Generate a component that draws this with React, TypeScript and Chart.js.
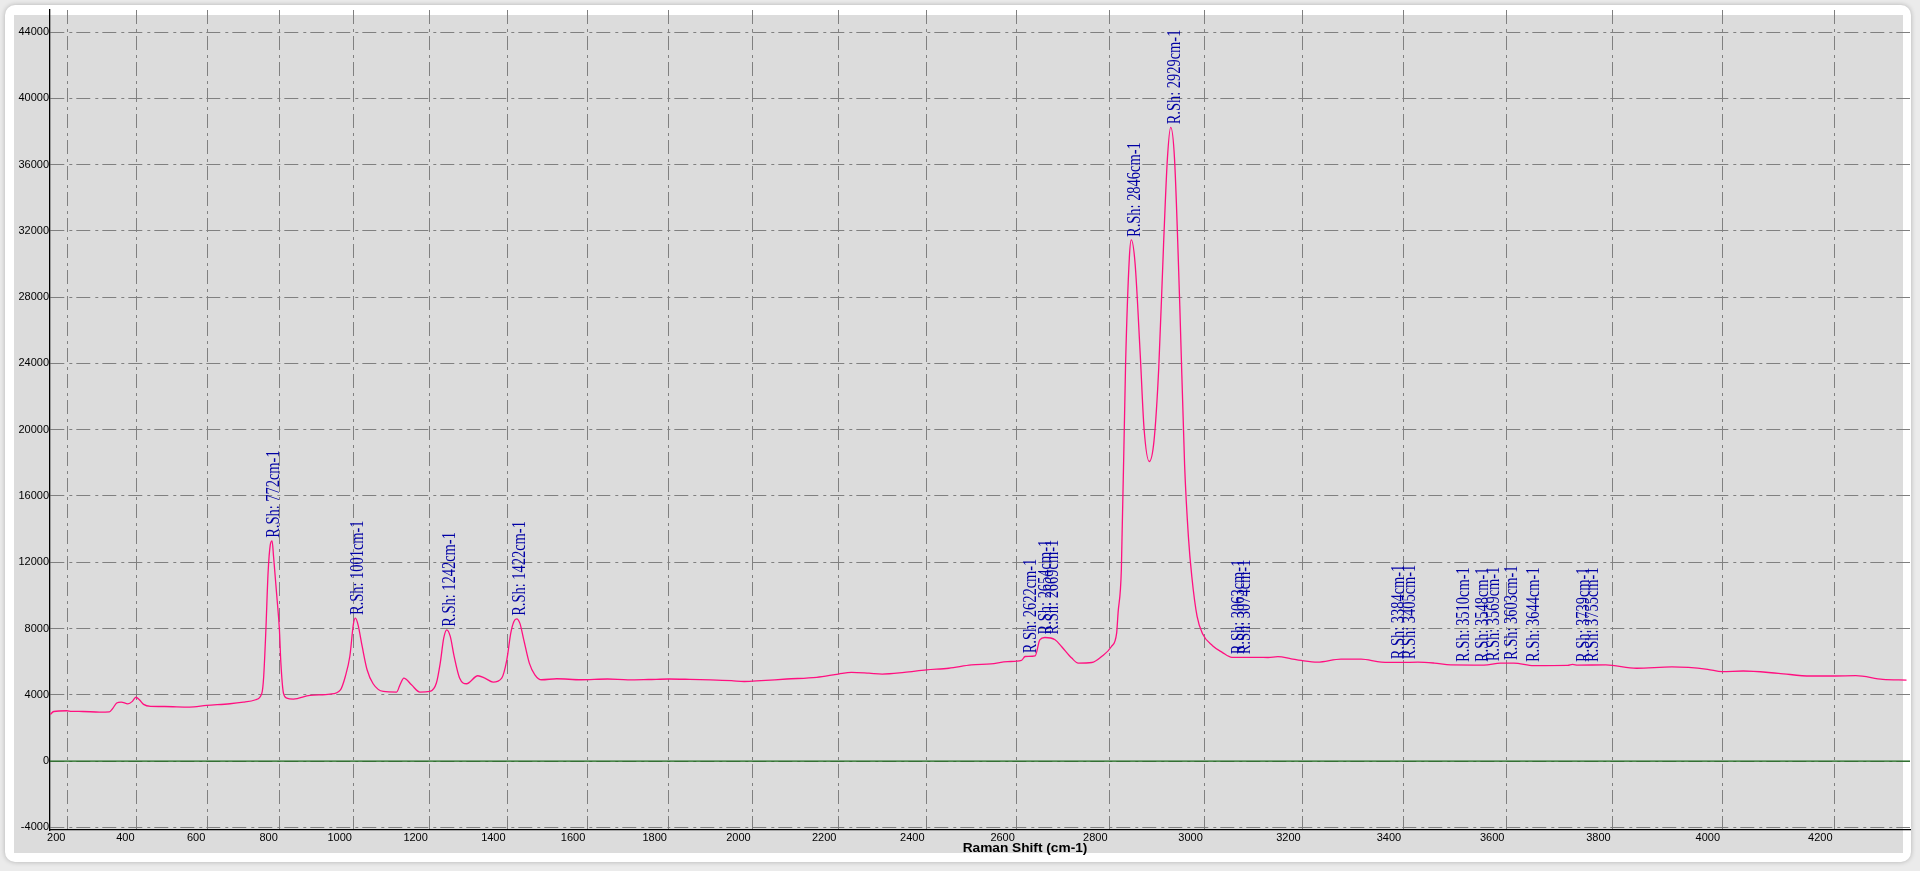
import React, { useEffect, useRef } from 'react';
import { Chart, registerables, LinearScale } from 'chart.js';

// ---- data ----
const RAMAN_SHIFT = [
  150, 160, 198, 212, 245, 293, 322, 331, 343, 356, 375, 388, 398, 408, 420, 440, 480, 550, 598, 663,
  700, 734, 751, 756, 762, 768, 774, 779, 783, 792, 799, 803, 810, 819, 837, 882, 936, 964, 977, 989,
  999, 1004, 1011, 1022, 1035, 1051, 1078, 1113, 1122, 1132, 1152, 1174, 1200, 1217, 1227, 1236, 1244, 1253, 1263, 1277,
  1295, 1324, 1342, 1363, 1385, 1398, 1408, 1416, 1423, 1431, 1441, 1455, 1469, 1486, 1524, 1584, 1650, 1700, 1750, 1800,
  1850, 1900, 1950, 1980, 2020, 2080, 2150, 2200, 2230, 2270, 2300, 2350, 2400, 2450, 2500, 2543, 2580, 2610, 2618, 2640,
  2650, 2661, 2683, 2697, 2719, 2733, 2762, 2783, 2804, 2815, 2818, 2825, 2834, 2842, 2846, 2854, 2865, 2873, 2884, 2894,
  2904, 2914, 2922, 2929, 2937, 2948, 2958, 2966, 2973, 2984, 2995, 3016, 3036, 3056, 3110, 3130, 3150, 3177, 3197, 3230,
  3277, 3317, 3357, 3397, 3429, 3461, 3493, 3557, 3589, 3614, 3652, 3716, 3725, 3735, 3787, 3844, 3909, 3974, 4000, 4038,
  4101, 4158, 4200, 4237, 4284, 4325,
];
const INTENSITY = [
  2810, 2990, 3035, 3000, 2990, 2955, 2970, 3155, 3500, 3560, 3450, 3600, 3850, 3700, 3420, 3300, 3290, 3257, 3355, 3457,
  3550, 3698, 4100, 5104, 7921, 11360, 13050, 13290, 12344, 9930, 7921, 5912, 4100, 3800, 3740, 3960, 4040, 4300, 5104, 6310,
  8325, 8627, 8223, 6914, 5508, 4664, 4200, 4163, 4603, 5007, 4603, 4163, 4200, 4706, 5912, 7420, 7921, 7520, 6310, 5007,
  4664, 5146, 5007, 4766, 5007, 6111, 7722, 8424, 8585, 8325, 7318, 5912, 5206, 4905, 4965, 4905, 4950, 4900, 4920, 4950,
  4930, 4900, 4850, 4800, 4850, 4950, 5050, 5250, 5350, 5300, 5250, 5350, 5500, 5600, 5800, 5870, 6000, 6070, 6310, 6353,
  7318, 7457, 7318, 6914, 6214, 5912, 5948, 6310, 6914, 7722, 8929, 11540, 24000, 30400, 31450, 30060, 24510, 20070, 18080, 19340,
  23770, 31150, 36330, 38250, 36330, 27460, 17870, 13500, 11140, 8724, 7700, 6960, 6560, 6260, 6260, 6250, 6300, 6170, 6070, 5970,
  6150, 6150, 5970, 5950, 5970, 5912, 5800, 5790, 5912, 5912, 5760, 5770, 5830, 5790, 5800, 5600, 5677, 5535, 5394, 5434,
  5293, 5131, 5131, 5150, 4929, 4889,
];
const X_TICKS = [200, 400, 600, 800, 1000, 1200, 1400, 1600, 1800, 2000, 2200, 2400, 2600, 2800, 3000, 3200, 3400, 3600, 3800, 4000, 4200];
const Y_TICKS = [-4000, 0, 4000, 8000, 12000, 16000, 20000, 24000, 28000, 32000, 36000, 40000, 44000];
const PEAK_LABELS = [772, 1001, 1242, 1422, 2622, 2654, 2669, 2846, 2929, 3063, 3074, 3384, 3405, 3510, 3548, 3569, 3603, 3644, 3739, 3755];
const X_TITLE = 'Raman Shift (cm-1)';

const X_MIN = 149;
const X_MAX = 4331;
const Y_MIN = -4163;
const Y_MAX = 45330;
// the axis is drawn linear in scattered wavelength: pixel ~ 1 / (K - shift)
const AXIS_K = 17908;

class RamanShiftScale extends LinearScale {
  static id = 'ramanShift';
  static defaults = LinearScale.defaults;
  _t(v: number) {
    return 1 / (AXIS_K - v);
  }
  getPixelForValue(value: any) {
    if (value === null || value === undefined || isNaN(value)) return NaN;
    const a = this._t(this.min);
    const b = this._t(this.max);
    return this.getPixelForDecimal((this._t(value) - a) / (b - a));
  }
  getValueForPixel(pixel: number) {
    const a = this._t(this.min);
    const b = this._t(this.max);
    const t = a + this.getDecimalForPixel(pixel) * (b - a);
    return AXIS_K - 1 / t;
  }
}

Chart.register(...registerables, RamanShiftScale);

function interpIntensity(x: number) {
  for (let i = 0; i < RAMAN_SHIFT.length - 1; i++) {
    const x0 = RAMAN_SHIFT[i], x1 = RAMAN_SHIFT[i + 1];
    if (x >= x0 && x <= x1) {
      return INTENSITY[i] + ((x - x0) / (x1 - x0)) * (INTENSITY[i + 1] - INTENSITY[i]);
    }
  }
  return INTENSITY[INTENSITY.length - 1];
}

const peakLabelPlugin = {
  id: 'peakLabels',
  afterDatasetsDraw(chart: any) {
    const { ctx, scales } = chart;
    const xs = scales.x, ys = scales.y;
    ctx.save();
    ctx.fillStyle = '#0000a4';
    ctx.font = '19px "Liberation Serif"';
    ctx.textAlign = 'left';
    ctx.textBaseline = 'middle';
    PEAK_LABELS.forEach((L) => {
      let best = interpIntensity(L);
      for (let i = 0; i < RAMAN_SHIFT.length; i++) {
        if (Math.abs(RAMAN_SHIFT[i] - L) <= 8 && INTENSITY[i] > best) best = INTENSITY[i];
      }
      const px = xs.getPixelForValue(L) + 4;
      const py = ys.getPixelForValue(best) - 3;
      ctx.save();
      ctx.translate(px, py);
      ctx.rotate(-Math.PI / 2);
      ctx.scale(0.76, 1);
      ctx.fillText('R.Sh: ' + L + 'cm-1', 0, 0);
      ctx.restore();
    });
    ctx.restore();
  },
};

const axisTitlePlugin = {
  id: 'axisTitle',
  afterDraw(chart: any) {
    const { ctx } = chart;
    ctx.save();
    ctx.fillStyle = '#000';
    ctx.font = 'bold 13.7px "Liberation Sans"';
    ctx.textAlign = 'center';
    ctx.textBaseline = 'middle';
    ctx.fillText(X_TITLE, 1025, 848);
    ctx.restore();
  },
};

export default function App() {
  const ref = useRef<HTMLCanvasElement | null>(null);
  useEffect(() => {
    if (!ref.current) return;
    const points = RAMAN_SHIFT.map((x, i) => ({ x, y: INTENSITY[i] }));
    const chart = new Chart(ref.current, {
      type: 'line',
      data: {
        datasets: [
          {
            data: [{ x: X_MIN, y: 0 }, { x: X_MAX, y: 0 }],
            borderColor: '#1a6a1a',
            borderWidth: 1.2,
            pointRadius: 0,
            tension: 0,
          },
          {
            data: points,
            borderColor: '#ff1080',
            borderWidth: 1.3,
            pointRadius: 0,
            cubicInterpolationMode: 'monotone',
          },
        ],
      },
      options: {
        animation: false,
        responsive: false,
        devicePixelRatio: 1,
        layout: { padding: { top: 10, right: 10, left: 0, bottom: 0 } },
        plugins: { legend: { display: false }, tooltip: { enabled: false } },
        scales: {
          x: {
            type: 'ramanShift' as any,
            min: X_MIN,
            max: X_MAX,
            afterBuildTicks: (s: any) => {
              s.ticks = X_TICKS.map((value) => ({ value }));
            },
            afterFit: (s: any) => {
              s.height = 41;
            },
            ticks: {
              autoSkip: false,
              maxRotation: 0,
              align: 'end',
              padding: 1,
              labelOffset: -2,
              color: '#000',
              font: { family: '"Liberation Sans"', size: 11 },
              callback: (v: any) => String(v),
            },
            grid: { color: '#808080', lineWidth: 1, drawTicks: false },
            border: { display: true, color: '#000', width: 1.3, dash: [14, 5, 3, 4] },
          },
          y: {
            type: 'linear',
            min: Y_MIN,
            max: Y_MAX,
            afterBuildTicks: (s: any) => {
              s.ticks = Y_TICKS.map((value) => ({ value }));
            },
            afterFit: (s: any) => {
              s.width = 50;
            },
            ticks: {
              autoSkip: false,
              padding: 1,
              color: '#000',
              font: { family: '"Liberation Sans"', size: 11 },
              callback: (v: any) => String(v),
            },
            grid: { color: '#808080', lineWidth: 1, drawTicks: false },
            border: { display: true, color: '#000', width: 1.3, dash: [14, 5, 3, 4] },
          },
        },
      },
      plugins: [peakLabelPlugin, axisTitlePlugin],
    } as any);
    return () => chart.destroy();
  }, []);

  return (
    <div style={{ position: 'fixed', left: 0, top: 0, width: 1920, height: 871, background: '#ebebeb', overflow: 'hidden' }}>
      <div
        style={{
          position: 'absolute', left: 5, top: 5, width: 1906, height: 857, background: '#ffffff',
          borderRadius: 10, boxShadow: '0 0 5px rgba(0,0,0,0.25)',
        }}
      />
      <div style={{ position: 'absolute', left: 14, top: 15, width: 1889, height: 838, background: '#dcdcdc' }} />
      <canvas ref={ref} width={1920} height={871} style={{ position: 'absolute', left: 0, top: 0 }} />
    </div>
  );
}
